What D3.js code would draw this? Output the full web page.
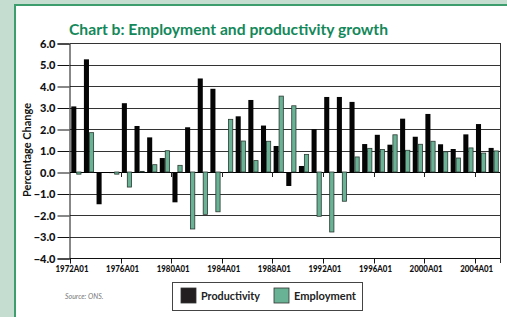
<!DOCTYPE html>
<html>
<head>
<meta charset="utf-8">
<script src="https://cdn.jsdelivr.net/npm/d3@7"></script>
<style>
  body { margin: 0; background: #c5ddd0; }
  svg { display: block; font-family: Lato, "Open Sans", sans-serif; }
</style>
</head>
<body>
<div id="chart"></div>
<script>
// Data
const years = d3.range(1972, 2006).map(String);
const productivity = [3.05, 5.24, -1.50, -0.05, 3.20, 2.14, 1.61, 0.65, -1.41, 2.08,
                      4.35, 3.87, 0.00, 2.59, 3.35, 2.16, 1.21, -0.65, 0.28, 1.99,
                      3.49, 3.49, 3.26, 1.30, 1.73, 1.27, 2.48, 1.64, 2.70, 1.29,
                      1.07, 1.75, 2.23, 1.12];
const employment = [-0.10, 1.83, 0.00, -0.10, -0.70, 0.03, 0.34, 0.99, 0.31, -2.65,
                    -1.97, -1.85, 2.45, 1.44, 0.53, 1.43, 3.53, 3.08, 0.82, -2.06,
                    -2.79, -1.36, 0.70, 1.10, 1.05, 1.73, 1.01, 1.29, 1.43, 0.94,
                    0.65, 1.12, 0.88, 0.98];
const yTicks = [6, 5, 4, 3, 2, 1, 0, -1, -2, -3, -4];
const labelYears = ["1972", "1976", "1980", "1984", "1988", "1992", "1996", "2000", "2004"];

const W = 507, H = 317;
const plot = {left: 70, right: 500, top: 43, bottom: 258};

const svg = d3.select("#chart").append("svg")
    .attr("width", W)
    .attr("height", H);

// panel with green border
svg.append("rect")
    .attr("x", 15).attr("y", 5)
    .attr("width", W).attr("height", H)
    .attr("fill", "#fff")
    .attr("stroke", "#3d9d6d")
    .attr("stroke-width", 2);

svg.append("text")
    .attr("x", 69).attr("y", 35)
    .attr("fill", "#13885a")
    .attr("font-weight", "bold")
    .attr("font-size", 15)
    .attr("textLength", 319)
    .attr("lengthAdjust", "spacingAndGlyphs")
    .text("Chart b: Employment and productivity growth");

const x = d3.scaleBand().domain(years).range([plot.left, plot.right]).padding(0);
const xs = d3.scaleBand().domain(["p", "e"]).range([0, x.bandwidth()])
    .paddingInner(0).paddingOuter(0.25);
const y = d3.scaleLinear().domain([-4, 6]).range([plot.bottom, plot.top]);

// grid lines
svg.append("g")
    .selectAll("line")
    .data(yTicks)
    .enter().append("line")
    .attr("x1", plot.left).attr("x2", plot.right)
    .attr("y1", d => Math.round(y(d)) + 0.5)
    .attr("y2", d => Math.round(y(d)) + 0.5)
    .attr("stroke", d => d == 0 ? "#000" : "#333")
    .attr("stroke-width", 1);

// right border
svg.append("line")
    .attr("x1", plot.right + 0.5).attr("x2", plot.right + 0.5)
    .attr("y1", y(6)).attr("y2", y(-4) + 5)
    .attr("stroke", "#333");

// y axis
const yAxis = svg.append("g")
    .attr("transform", "translate(" + (plot.left - 0.5) + ",0.5)")
    .call(d3.axisLeft(y).tickValues(yTicks).tickFormat(d3.format(".1f")).tickSize(12).tickPadding(2));
yAxis.select(".domain").attr("stroke", "#111");
yAxis.selectAll(".tick line").attr("stroke", "#111");
yAxis.selectAll("text")
    .attr("font-family", "Lato, sans-serif")
    .attr("font-weight", 900)
    .attr("font-size", 11)
    .attr("fill", "#111");

svg.append("text")
    .attr("transform", "translate(31,150)rotate(-90)")
    .attr("text-anchor", "middle")
    .attr("font-weight", "bold")
    .attr("font-size", 11)
    .attr("textLength", 94)
    .attr("lengthAdjust", "spacingAndGlyphs")
    .attr("fill", "#111")
    .text("Percentage Change");

// x axis at the bottom
const xAxis = svg.append("g")
    .attr("transform", "translate(0," + (Math.round(y(-4)) + 0.5) + ")");
xAxis.append("line")
    .attr("x1", plot.left).attr("x2", plot.right)
    .attr("stroke", "#111");
xAxis.selectAll(".xt")
    .data(labelYears)
    .enter().append("line")
    .attr("x1", d => Math.round(x(d)) + 0.5)
    .attr("x2", d => Math.round(x(d)) + 0.5)
    .attr("y1", 0).attr("y2", 5)
    .attr("stroke", "#111");
xAxis.selectAll(".xl")
    .data(labelYears)
    .enter().append("text")
    .attr("x", d => x(d) + 2)
    .attr("y", 13)
    .attr("text-anchor", "middle")
    .attr("font-weight", 900)
    .attr("font-size", 9)
    .attr("textLength", 33)
    .attr("lengthAdjust", "spacingAndGlyphs")
    .attr("fill", "#111")
    .text(d => d + "A01");

// small ticks on the zero line
svg.append("g")
    .selectAll("line")
    .data(labelYears.slice(1))
    .enter().append("line")
    .attr("x1", d => Math.round(x(d)) + 0.5)
    .attr("x2", d => Math.round(x(d)) + 0.5)
    .attr("y1", y(0)).attr("y2", y(0) + 5)
    .attr("stroke", "#222");

// bars
const groups = svg.append("g")
    .selectAll("g")
    .data(years)
    .enter().append("g")
    .attr("transform", d => "translate(" + x(d) + ",0)");

groups.append("rect")
    .attr("x", xs("p"))
    .attr("width", xs.bandwidth())
    .attr("y", (d, i) => y(Math.max(0, productivity[i])))
    .attr("height", (d, i) => Math.abs(y(productivity[i]) - y(0)))
    .attr("fill", "#050505");

groups.append("rect")
    .attr("x", xs("e") + 0.4)
    .attr("width", xs.bandwidth() - 0.8)
    .attr("y", (d, i) => y(Math.max(0, employment[i])))
    .attr("height", (d, i) => Math.abs(y(employment[i]) - y(0)))
    .attr("fill", "#69b295")
    .attr("stroke", "#2a3a32")
    .attr("stroke-width", 0.8);

// legend
const legend = svg.append("g").attr("transform", "translate(172,282)");
legend.append("rect")
    .attr("x", 0.5).attr("y", 0.5)
    .attr("width", 190).attr("height", 28)
    .attr("fill", "#fff")
    .attr("stroke", "#444");
const items = [{name: "Productivity", color: "#231f20", x: 9, w: 59},
               {name: "Employment", color: "#69b295", x: 102, w: 62}];
items.forEach(function (it) {
    legend.append("rect")
        .attr("x", it.x).attr("y", 6)
        .attr("width", 15).attr("height", 15)
        .attr("fill", it.color)
        .attr("stroke", "#333")
        .attr("stroke-width", 0.8);
    legend.append("text")
        .attr("x", it.x + 20).attr("y", 18)
        .attr("font-weight", "bold")
        .attr("font-size", 11.5)
        .attr("textLength", it.w)
        .attr("lengthAdjust", "spacingAndGlyphs")
        .attr("fill", "#222")
        .text(it.name);
});

svg.append("text")
    .attr("x", 65).attr("y", 299)
    .attr("font-style", "italic")
    .attr("font-size", 7)
    .attr("fill", "#777")
    .text("Source: ONS.");
</script>
</body>
</html>
